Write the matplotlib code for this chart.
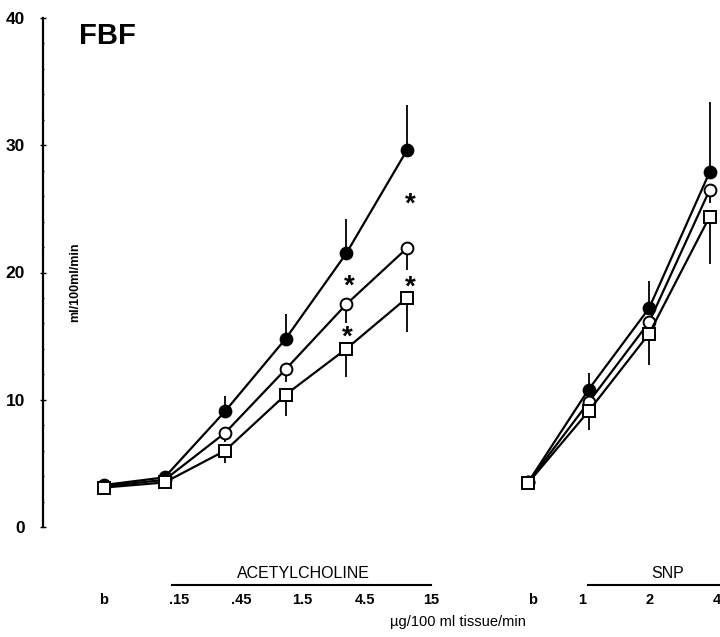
import matplotlib
matplotlib.use("Agg")
import matplotlib.pyplot as plt
import matplotlib.transforms as mtransforms
import numpy as np

plt.rcParams['font.family'] = ['Liberation Sans', 'DejaVu Sans']

# x positions (group index) and values
ach_x = np.array([0, 1, 2, 3, 4, 5])
snp_x = np.array([7, 8, 9, 10])

ach_filled = np.array([3.3, 3.9, 9.1, 14.8, 21.5, 29.6])
ach_open = np.array([3.2, 3.7, 7.4, 12.4, 17.5, 21.9])
ach_square = np.array([3.1, 3.5, 6.0, 10.4, 14.0, 18.0])
ach_filled_err = np.array([0.2, 0.3, 1.2, 1.9, 2.7, 3.6])
ach_open_err = np.array([0.2, 0.2, 0.7, 1.0, 1.5, 1.7])
ach_square_err = np.array([0.3, 0.3, 1.0, 1.7, 2.2, 2.7])

snp_filled = np.array([3.5, 10.8, 17.2, 27.9])
snp_open = np.array([3.5, 9.8, 16.1, 26.5])
snp_square = np.array([3.45, 9.1, 15.2, 24.4])
snp_filled_err = np.array([0.2, 1.3, 2.1, 5.5])
snp_open_err = np.array([0.2, 0.5, 0.8, 1.0])
snp_square_err = np.array([0.2, 1.5, 2.5, 3.7])

tick_pos = [0, 1.24, 2.26, 3.28, 4.31, 5.4, 7.08, 7.89, 9.01, 10.12]
tick_labels = ['b', '.15', '.45', '1.5', '4.5', '15', 'b', '1', '2', '4']

# significance stars: (x, y)
stars = [(5.05, 25.3), (5.05, 18.8), (4.05, 18.9), (4.02, 14.9)]

fig = plt.figure(figsize=(7.2, 6.37), dpi=100)
ax = fig.add_axes([43 / 720, 110 / 637, 677 / 720, 509 / 637])

series = [
    (ach_x, ach_filled, ach_filled_err, snp_filled, snp_filled_err, 'o', 'black', 'up'),
    (ach_x, ach_open, ach_open_err, snp_open, snp_open_err, 'o', 'white', 'down'),
    (ach_x, ach_square, ach_square_err, snp_square, snp_square_err, 's', 'white', 'down'),
]

for xs, ys, es, ys2, es2, mk, fc, side in series:
    for xx, yy, ee in [(xs, ys, es), (snp_x, ys2, es2)]:
        if side == 'up':
            yerr = [np.zeros_like(ee), ee]
        else:
            yerr = [ee, np.zeros_like(ee)]
        ax.errorbar(xx, yy, yerr=yerr, fmt='none', ecolor='black', elinewidth=1.3, capsize=0, zorder=2)
        ax.plot(xx, yy, color='black', lw=1.6, marker=mk, ms=8.5 if mk == 'o' else 8,
                mfc=fc, mec='black', mew=1.4, zorder=3)

for sx, sy in stars:
    ax.text(sx, sy, '*', fontsize=20, fontweight='bold', ha='center', va='center')

ax.set_xlim(-1.007, 10.17)
ax.set_ylim(0, 40)
ax.set_yticks([0, 10, 20, 30, 40])
ax.set_yticklabels(['0', '10', '20', '30', '40'], fontsize=12.5, fontweight='bold')
ax.set_yticks(np.arange(0, 41, 2), minor=True)
ax.tick_params(axis='y', which='major', direction='inout', length=4, width=1, pad=11)
ax.tick_params(axis='y', which='minor', direction='inout', length=2, width=0.8)
ax.set_xticks([])
for s in ['top', 'right', 'bottom']:
    ax.spines[s].set_visible(False)
ax.spines['left'].set_linewidth(1.6)

ax.text(0.048, 0.48, 'ml/100ml/min', transform=ax.transAxes, rotation=90,
        fontsize=9, fontweight='bold', ha='center', va='center')

fig.text(107 / 720, 1 - 36 / 637, 'FBF', fontsize=21, fontweight='bold', ha='center', va='center')

trans = mtransforms.blended_transform_factory(ax.transData, fig.transFigure)
for p, lab in zip(tick_pos, tick_labels):
    ax.text(p, 1 - 600 / 637, lab, transform=trans, ha='center', va='center',
            fontsize=10.5, fontweight='bold', clip_on=False)

ax.plot([1.12, 5.4], [1 - 585 / 637] * 2, color='black', lw=1.5, transform=trans, clip_on=False)
ax.plot([7.99, 10.17], [1 - 585 / 637] * 2, color='black', lw=1.5, transform=trans, clip_on=False)
ax.text(3.3, 1 - 574 / 637, 'ACETYLCHOLINE', transform=trans, ha='center', va='center',
        fontsize=11.5, clip_on=False)
ax.text(9.3, 1 - 574 / 637, 'SNP', transform=trans, ha='center', va='center',
        fontsize=11.5, clip_on=False)
fig.text(458 / 720, 1 - 622 / 637, 'µg/100 ml tissue/min', ha='center', va='center', fontsize=10.5)

fig.savefig('out.png', dpi=100)
